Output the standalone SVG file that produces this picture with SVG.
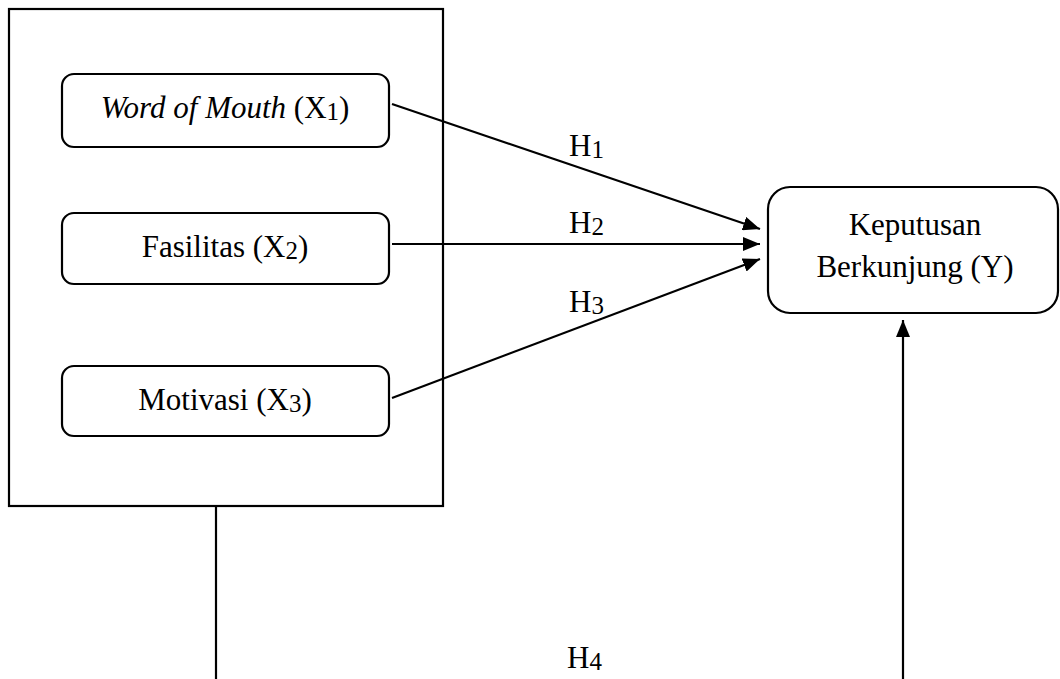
<svg xmlns="http://www.w3.org/2000/svg" width="1060" height="679" viewBox="0 0 1060 679">
<style>
.box{fill:#fff;stroke:#000;stroke-width:2.2}
.ln{fill:none;stroke:#000;stroke-width:2.2}
text{font-family:"Liberation Serif","Times New Roman",serif;font-size:31px;fill:#000}
.c{text-anchor:middle}
.sub{font-size:25px}
</style>
<defs>
<marker id="ah" viewBox="0 0 17 14" refX="17" refY="7" markerWidth="17" markerHeight="14" markerUnits="userSpaceOnUse" orient="auto">
<path d="M0,0 L17,7 L0,14 Z" fill="#000"/>
</marker>
</defs>
<g id="group-x">
<rect class="box" x="9" y="9" width="434" height="497"/>
</g>
<g id="connectors">
<line class="ln" x1="392" y1="104" x2="760" y2="229" marker-end="url(#ah)"/>
<line class="ln" x1="392" y1="244" x2="760" y2="244" marker-end="url(#ah)"/>
<line class="ln" x1="392" y1="398" x2="760" y2="259" marker-end="url(#ah)"/>
<line class="ln" x1="216" y1="506" x2="216" y2="679"/>
<line class="ln" x1="903" y1="679" x2="903" y2="320" marker-end="url(#ah)"/>
<text x="569" y="156">H<tspan class="sub" dy="2">1</tspan></text>
<text x="569" y="233">H<tspan class="sub" dy="2">2</tspan></text>
<text x="569" y="312">H<tspan class="sub" dy="2">3</tspan></text>
<text x="567" y="668">H<tspan class="sub" dy="2">4</tspan></text>
</g>
<g id="x1">
<rect class="box" x="62" y="74" width="327" height="73" rx="12"/>
<text class="c" x="225" y="118"><tspan font-style="italic">Word of Mouth</tspan> (X<tspan class="sub" dy="2">1</tspan><tspan dy="-2">)</tspan></text>
</g>
<g id="x2">
<rect class="box" x="62" y="213" width="327" height="71" rx="12"/>
<text class="c" x="225" y="257">Fasilitas (X<tspan class="sub" dy="2">2</tspan><tspan dy="-2">)</tspan></text>
</g>
<g id="x3">
<rect class="box" x="62" y="366" width="327" height="70" rx="12"/>
<text class="c" x="225" y="410">Motivasi (X<tspan class="sub" dy="2">3</tspan><tspan dy="-2">)</tspan></text>
</g>
<g id="y">
<rect class="box" x="768" y="187" width="290" height="126" rx="22"/>
<text class="c" x="915" y="235">Keputusan</text>
<text class="c" x="915" y="277">Berkunjung (Y)</text>
</g>
</svg>
